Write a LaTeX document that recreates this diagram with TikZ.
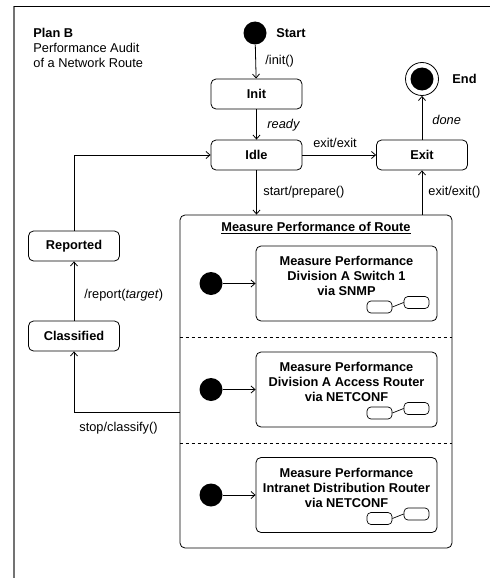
\documentclass[tikz,border=0pt]{standalone}
\usepackage{fontspec}
\setmainfont{Liberation Sans}
\usetikzlibrary{arrows.meta}

\tikzset{
    state/.style={draw,rounded corners=5pt,minimum width=91pt,minimum height=30pt,
        inner sep=0pt,font=\fontsize{12.8}{15}\selectfont\bfseries},
    initial/.style={circle,fill=black,inner sep=0pt,minimum size=23pt},
    substate/.style={draw,rounded corners=5pt,minimum width=181pt,minimum height=75pt,inner sep=0pt},
    subtext/.style={align=center,inner sep=0pt,font=\fontsize{12.8}{15}\selectfont\bfseries},
    icon/.style={draw,rounded corners=4pt,minimum width=25pt,minimum height=12pt,inner sep=0pt,line width=0.7pt},
    lbl/.style={inner sep=0pt,anchor=west},
    trans/.style={-{Straight Barb[length=4pt,width=7pt]}}
}

\begin{document}
\begin{tikzpicture}[x=1pt,y=-1pt,font=\fontsize{12.8}{15}\selectfont,line width=0.8pt]
    \useasboundingbox (0,0) rectangle (490,578);
    % frame
    \draw[black!55,line width=1.6pt] (14,6) -- (14,578);
    \draw (14,6) -- (490,6);
    \node[lbl,align=left] (title) at (33,47.5) {\textbf{Plan B}\\Performance Audit\\of a Network Route};

    % top level states
    \node[initial] (start) at (255,33) {};
    \node[lbl,font=\fontsize{12.8}{15}\selectfont\bfseries] (startlbl) at (276,33) {Start};
    \node[state] (init) at (256.5,94) {Init};
    \node[state] (idle) at (256.5,155) {Idle};
    \node[state] (exit) at (422,155) {Exit};
    \node[circle,draw,minimum size=33pt,inner sep=0pt] (end) at (422,79) {};
    \node[initial] (endin) at (end) {};
    \node[lbl,font=\fontsize{12.8}{15}\selectfont\bfseries] (endlbl) at (452,79) {End};
    \node[state] (reported) at (74,246) {Reported};
    \node[state] (classified) at (74,336) {Classified};

    % composite state
    \node[draw,rounded corners=5pt,minimum width=272pt,minimum height=333pt,inner sep=0pt] (measure) at (316,381.5) {};
    \node[inner sep=0pt,font=\fontsize{12.8}{15}\selectfont\bfseries] (measurelbl) at (316,228) {\underline{Measure Performance of Route}};
    \draw[dashed] (measure.west |- 0,337) -- (measure.east |- 0,337);
    \draw[dashed] (measure.west |- 0,443) -- (measure.east |- 0,443);
    \foreach \n/\yy/\txt in {1/283.5/{Measure Performance\\Division A Switch 1\\via SNMP},
                             2/389.5/{Measure Performance\\Division A Access Router\\via NETCONF},
                             3/495/{Measure Performance\\Intranet Distribution Router\\via NETCONF}} {
        \begin{scope}[yshift=-\yy pt]
            \node[initial] (sub\n init) at (211,0) {};
            \node[substate] (sub\n) at (346.5,0) {};
            \node[subtext] (sub\n txt) at (346.5,-7.5) {\txt};
            \node[icon] (sub\n a) at (379.5,23.5) {};
            \node[icon] (sub\n b) at (416.5,19) {};
            \draw[line width=0.7pt] (sub\n a.east) -- (sub\n b.west);
            \draw[trans] (sub\n init) -- (sub\n);
        \end{scope}
    }

    % transitions
    \draw[trans] (start) -- (init);
    \node[lbl] (initlbl) at (265,61) {/init()};
    \draw[trans] (init) -- (idle);
    \node[lbl] (readylbl) at (267,125) {\textit{ready}};
    \draw[trans] (idle) -- (exit);
    \node[inner sep=0pt] (exitlbl) at (335,143) {exit/exit};
    \draw[trans] (exit) -- (end);
    \node[lbl] (donelbl) at (432,120) {\textit{done}};
    \draw[trans] (idle) -- (idle |- measure.north);
    \node[lbl] (preparelbl) at (263,192) {start/prepare()};
    \draw[trans] (exit |- measure.north) -- (exit);
    \node[lbl] (exitexitlbl) at (428,192) {exit/exit()};
    \draw[trans] (measure.west |- 0,412) -| (classified);
    \node[lbl] (classifylbl) at (79,428) {stop/classify()};
    \draw[trans] (classified) -- (reported);
    \node[lbl] (reportlbl) at (84,295) {/report(\textit{target})};
    \draw[trans] (reported) |- (idle);
\end{tikzpicture}
\end{document}
